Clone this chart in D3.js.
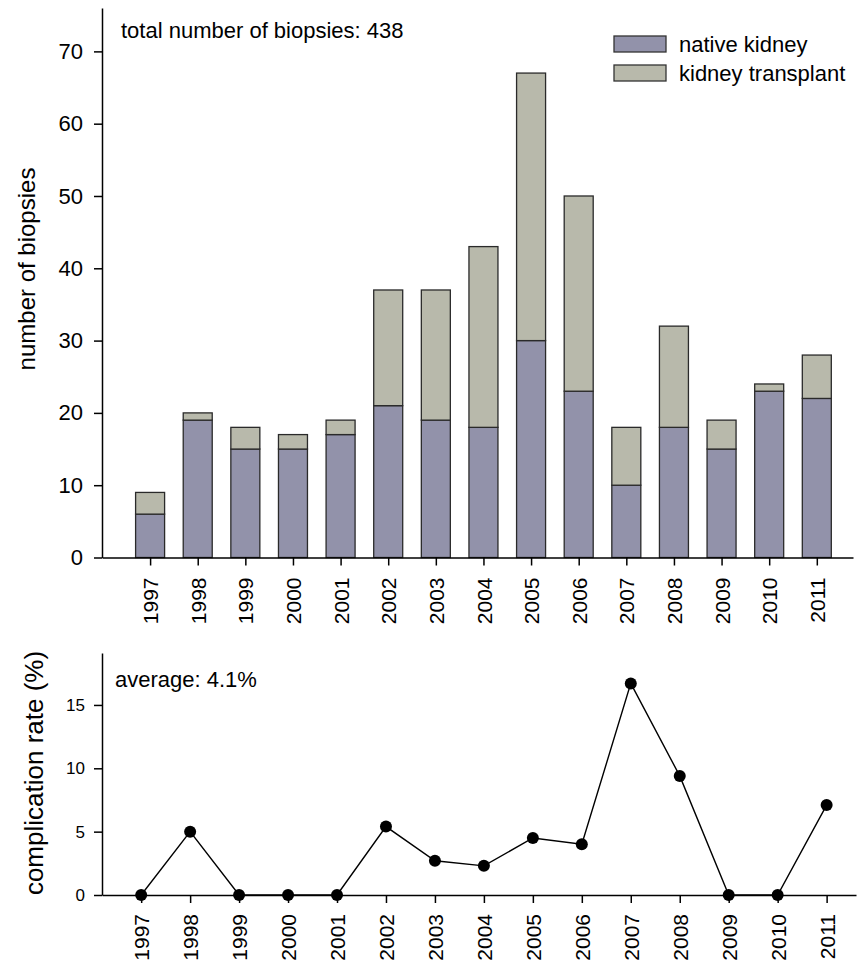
<!DOCTYPE html>
<html>
<head>
<meta charset="utf-8">
<script src="https://cdn.jsdelivr.net/npm/d3@7"></script>
<style>
  body { margin: 0; background: #fff; }
  svg { font-family: "Liberation Sans", Arial, sans-serif; }
</style>
</head>
<body>
<div id="canvas"></div>
<script>
const canvWidth = 857, canvHeight = 964;

// data
const years = [1997, 1998, 1999, 2000, 2001, 2002, 2003, 2004, 2005, 2006, 2007, 2008, 2009, 2010, 2011];
const nativeKidney = [6, 19, 15, 15, 17, 21, 19, 18, 30, 23, 10, 18, 15, 23, 22];
const kidneyTransplant = [3, 1, 3, 2, 2, 16, 18, 25, 37, 27, 8, 14, 4, 1, 6];
const complicationRate = [0, 5.0, 0, 0, 0, 5.4, 2.7, 2.3, 4.5, 4.0, 16.7, 9.4, 0, 0, 7.1];
const topTicks = [0, 10, 20, 30, 40, 50, 60, 70];
const bottomTicks = [0, 5, 10, 15];
const legendLabels = ["native kidney", "kidney transplant"];
const colors = ["#9292aa", "#b8b9ab"];

const svg = d3.select("#canvas").append("svg")
    .attr("width", canvWidth)
    .attr("height", canvHeight);

// ---- top chart: stacked bars ----
const x1 = d3.scaleLinear().domain([1995.99, 2011.76]).range([102, 853]);
const y1 = d3.scaleLinear().domain([0, 76]).range([557.5, 8]);
const barW = 29;

const bars = years.map(function (yr, i) {
    return {year: yr, n: nativeKidney[i], t: kidneyTransplant[i]};
});

const topChart = svg.append("g");

topChart.selectAll(".native")
    .data(bars)
    .enter().append("rect")
    .attr("class", "native")
    .attr("x", d => x1(d.year) - barW / 2)
    .attr("width", barW)
    .attr("y", d => y1(d.n))
    .attr("height", d => y1(0) - y1(d.n))
    .style("fill", colors[0])
    .style("stroke", "#2a2a2a")
    .style("stroke-width", 1.3);

topChart.selectAll(".transplant")
    .data(bars)
    .enter().append("rect")
    .attr("class", "transplant")
    .attr("x", d => x1(d.year) - barW / 2)
    .attr("width", barW)
    .attr("y", d => y1(d.n + d.t))
    .attr("height", d => y1(d.n) - y1(d.n + d.t))
    .style("fill", colors[1])
    .style("stroke", "#2a2a2a")
    .style("stroke-width", 1.3);

const xAxis1 = topChart.append("g")
    .attr("transform", "translate(0," + y1(0) + ")")
    .call(d3.axisBottom(x1).tickValues(years).tickFormat(d3.format("d")).tickSize(8).tickSizeOuter(0));
xAxis1.selectAll("text")
    .attr("transform", "rotate(-90)")
    .attr("text-anchor", "end")
    .attr("x", -20)
    .attr("y", 0)
    .attr("dy", "0.36em")
    .style("font-size", "21px");

const yAxis1 = topChart.append("g")
    .attr("transform", "translate(" + x1.range()[0] + ",0)")
    .call(d3.axisLeft(y1).tickValues(topTicks).tickSize(8).tickPadding(11).tickSizeOuter(0));
yAxis1.selectAll("text").style("font-size", "22px");

topChart.selectAll(".domain, .tick line").style("stroke", "#000").style("stroke-width", 1.5);
topChart.selectAll(".tick text").style("fill", "#000").style("font-family", "'Liberation Sans', Arial, sans-serif");

topChart.append("text")
    .attr("transform", "translate(35,269) rotate(-90)")
    .attr("text-anchor", "middle")
    .style("font-size", "24px")
    .text("number of biopsies");

topChart.append("text")
    .attr("x", 121)
    .attr("y", 38)
    .style("font-size", "22px")
    .text("total number of biopsies: 438");

const legend = topChart.selectAll(".legend")
    .data(legendLabels)
    .enter().append("g")
    .attr("class", "legend")
    .attr("transform", (d, i) => "translate(614," + (36 + i * 29) + ")");
legend.append("rect")
    .attr("width", 52)
    .attr("height", 16)
    .style("fill", (d, i) => colors[i])
    .style("stroke", "#333")
    .style("stroke-width", 1.3);
legend.append("text")
    .attr("x", 65)
    .attr("y", 16)
    .style("font-size", "22px")
    .text(d => d);

// ---- bottom chart: complication rate ----
const x2 = d3.scaleLinear().domain([1996.2, 2011.6]).range([102, 856]);
const y2 = d3.scaleLinear().domain([0, 19.1]).range([895, 653]);

const bottomChart = svg.append("g");

const xAxis2 = bottomChart.append("g")
    .attr("transform", "translate(0," + y2(0) + ")")
    .call(d3.axisBottom(x2).tickValues(years).tickFormat(d3.format("d")).tickSize(8).tickSizeOuter(0));
xAxis2.selectAll("text")
    .attr("transform", "rotate(-90)")
    .attr("text-anchor", "end")
    .attr("x", -19)
    .attr("y", 0)
    .attr("dy", "0.36em")
    .style("font-size", "21px");

const yAxis2 = bottomChart.append("g")
    .attr("transform", "translate(" + x2.range()[0] + ",0)")
    .call(d3.axisLeft(y2).tickValues(bottomTicks).tickSize(8).tickPadding(9).tickSizeOuter(0));
yAxis2.selectAll("text").style("font-size", "17px");

bottomChart.selectAll(".domain, .tick line").style("stroke", "#000").style("stroke-width", 1.5);
bottomChart.selectAll(".tick text").style("fill", "#000").style("font-family", "'Liberation Sans', Arial, sans-serif");

const line = d3.line()
    .x((d, i) => x2(years[i]))
    .y(d => y2(d));

bottomChart.append("path")
    .datum(complicationRate)
    .attr("d", line)
    .style("fill", "none")
    .style("stroke", "#000")
    .style("stroke-width", 1.4);

bottomChart.selectAll(".dot")
    .data(complicationRate)
    .enter().append("circle")
    .attr("class", "dot")
    .attr("cx", (d, i) => x2(years[i]))
    .attr("cy", d => y2(d))
    .attr("r", 6)
    .style("fill", "#000");

bottomChart.append("text")
    .attr("transform", "translate(43,773) rotate(-90)")
    .attr("text-anchor", "middle")
    .style("font-size", "26px")
    .text("complication rate (%)");

bottomChart.append("text")
    .attr("x", 115)
    .attr("y", 687)
    .style("font-size", "22px")
    .text("average: 4.1%");
</script>
</body>
</html>
